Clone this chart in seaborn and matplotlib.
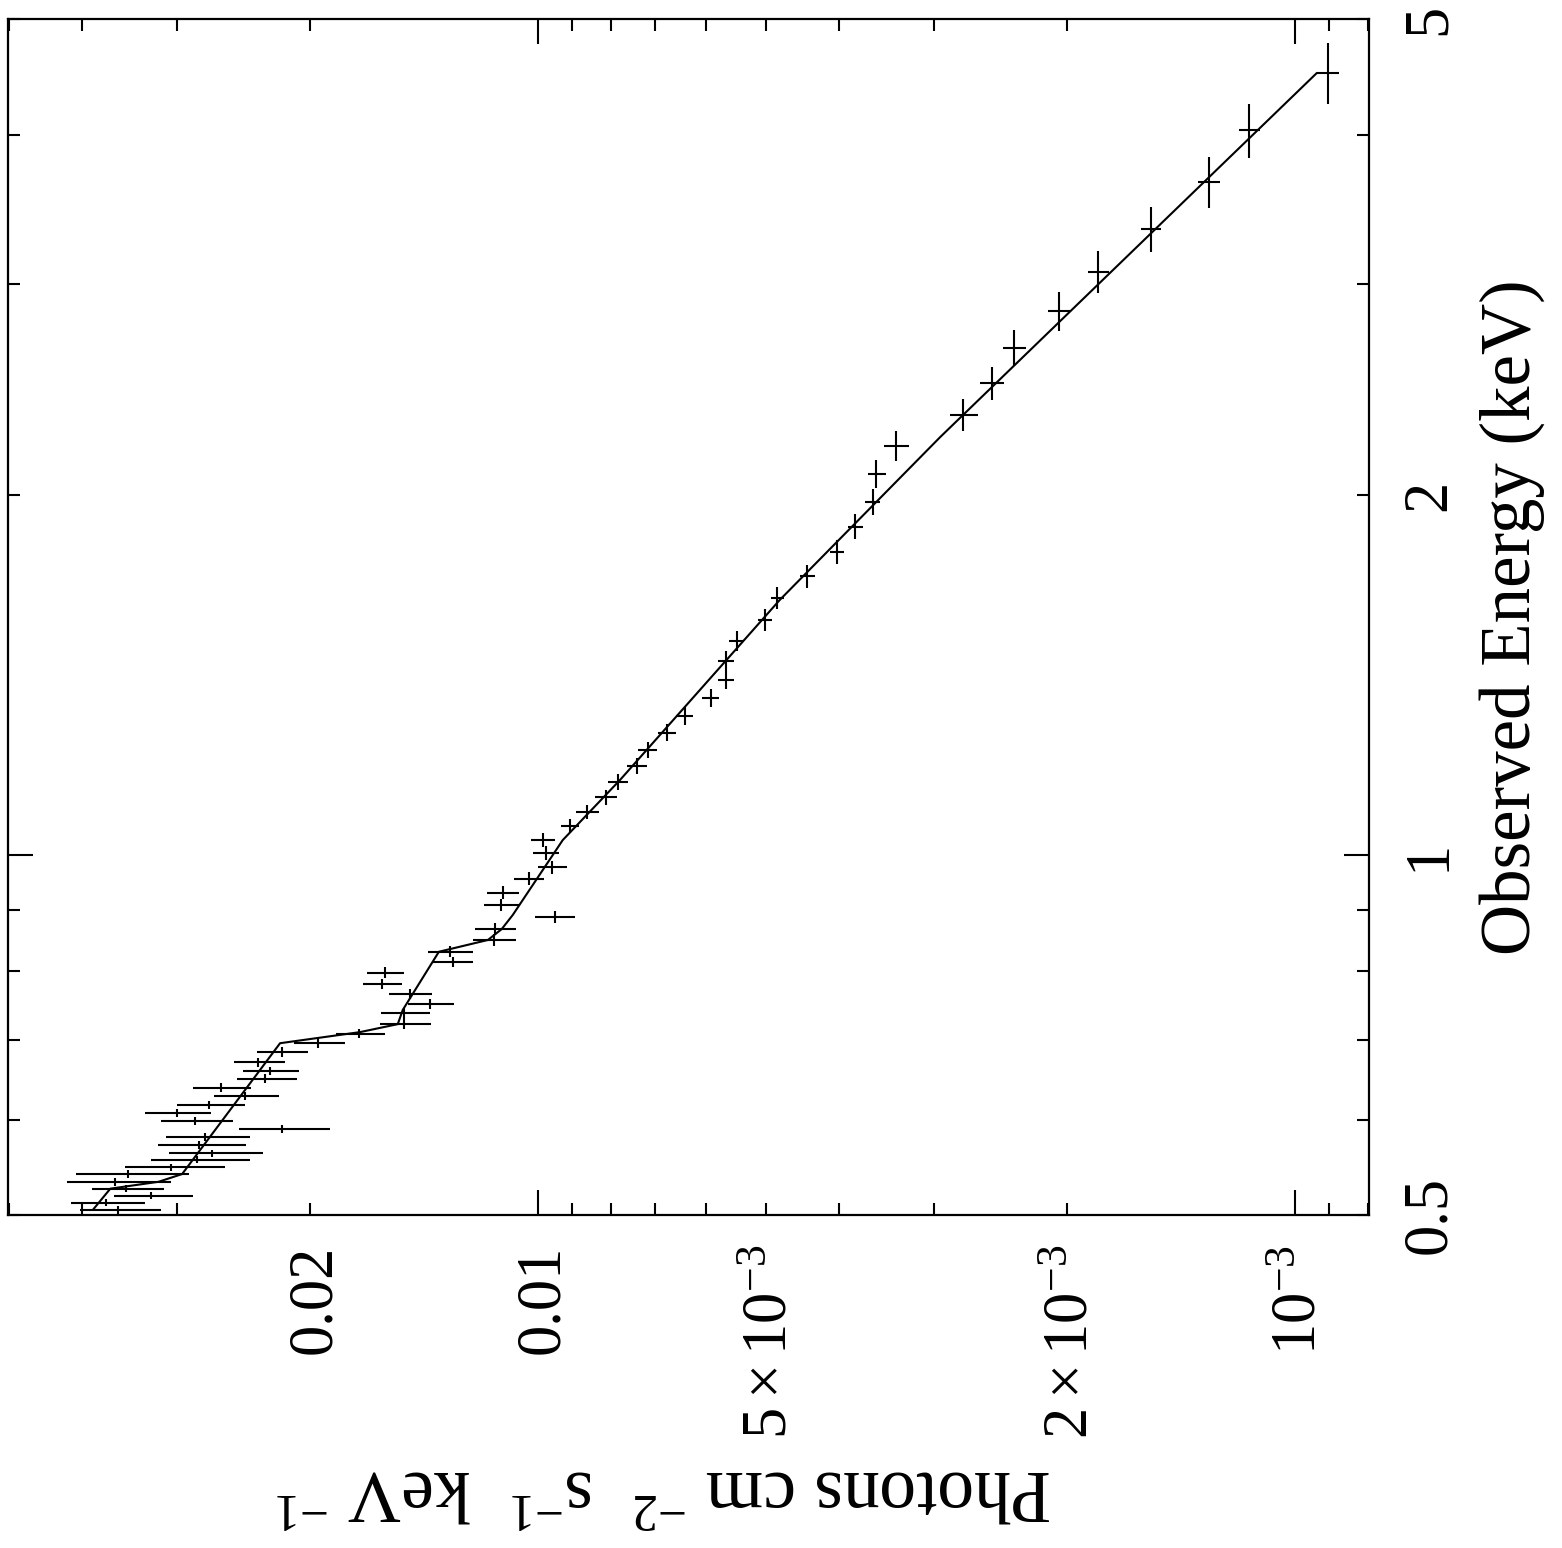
import numpy as np
import pandas as pd
import matplotlib
matplotlib.use("Agg")
import matplotlib.pyplot as plt
import matplotlib.transforms as mtransforms
from matplotlib.ticker import LogLocator, NullFormatter
import seaborn as sns

# Unfolded spectrum: bin centres and half-widths (keV), flux and 1-sigma errors
energy = [0.505, 0.512, 0.519, 0.526, 0.533, 0.541, 0.548, 0.556, 0.563, 0.572,
          0.581, 0.590, 0.599, 0.609, 0.618, 0.629, 0.639, 0.650, 0.660, 0.671,
          0.684, 0.696, 0.709, 0.722, 0.737, 0.751, 0.765, 0.780, 0.797, 0.814,
          0.830, 0.849, 0.867, 0.888, 0.908, 0.930, 0.955, 0.977, 1.004, 1.029,
          1.057, 1.086, 1.118, 1.151, 1.187, 1.224, 1.265, 1.307, 1.353, 1.401,
          1.453, 1.510, 1.572, 1.640, 1.711, 1.792, 1.881, 1.974, 2.083, 2.198,
          2.333, 2.481, 2.655, 2.850, 3.072, 3.338, 3.654, 4.039, 4.507]

energy_hw = [0.0036, 0.0035, 0.0035, 0.0035, 0.0038, 0.0039, 0.0037, 0.0037, 0.0041, 0.0044,
             0.0045, 0.0045, 0.0046, 0.0047, 0.0050, 0.0051, 0.0053, 0.0054, 0.0054, 0.0061,
             0.0063, 0.0064, 0.0065, 0.0070, 0.0071, 0.0072, 0.0074, 0.0079, 0.0084, 0.0082,
             0.0088, 0.0094, 0.0096, 0.0103, 0.0105, 0.0116, 0.0120, 0.0122, 0.0131, 0.0139,
             0.0143, 0.0152, 0.0161, 0.0172, 0.0183, 0.0195, 0.0207, 0.0220, 0.0234, 0.0249,
             0.0273, 0.0298, 0.0325, 0.0347, 0.0379, 0.0423, 0.0453, 0.0504, 0.0560, 0.0635,
             0.0719, 0.0789, 0.0920, 0.107, 0.124, 0.145, 0.176, 0.210, 0.265]

flux = [0.0359, 0.0372, 0.0324, 0.0350, 0.0362, 0.0348, 0.0305, 0.0282, 0.0269, 0.0280,
        0.0275, 0.0218, 0.0284, 0.0300, 0.0272, 0.0244, 0.0262, 0.0229, 0.0226, 0.0234,
        0.0218, 0.0195, 0.0172, 0.0150, 0.0150, 0.01389, 0.01476, 0.01607, 0.01593, 0.01295,
        0.01307, 0.01143, 0.01140, 0.00950, 0.01119, 0.01112, 0.01028, 0.00958, 0.00976, 0.00985,
        0.00907, 0.00861, 0.00813, 0.00784, 0.00740, 0.00716, 0.00676, 0.00640, 0.00591, 0.00564,
        0.00564, 0.00546, 0.00501, 0.00483, 0.00441, 0.00403, 0.00381, 0.00361, 0.00357, 0.00336,
        0.00274, 0.00251, 0.00235, 0.00205, 0.00182, 0.00155, 0.00130, 0.00115, 0.000905]

flux_err = [0.0044, 0.0042, 0.0039, 0.0038, 0.0057, 0.0059, 0.0046, 0.0042, 0.0038, 0.0037,
            0.0035, 0.0030, 0.0031, 0.0030, 0.0028, 0.0024, 0.0023, 0.0021, 0.0019, 0.0018,
            0.0017, 0.0015, 0.0013, 0.00116, 0.0011, 0.00097, 0.00097, 0.00095, 0.00090, 0.00079,
            0.00091, 0.00076, 0.00071, 0.00058, 0.00060, 0.00054, 0.00047, 0.00042, 0.00039, 0.00036,
            0.00025, 0.00030, 0.00027, 0.00024, 0.000225, 0.000207, 0.000185, 0.000165, 0.000153, 0.000137,
            0.00014, 0.000125, 0.000107, 0.0000955, 0.00010, 0.000086, 0.000087, 0.000082, 0.000098, 0.000128,
            0.000117, 0.0000916, 0.0000822, 0.0000686, 0.000058, 0.0000471, 0.0000435, 0.0000367, 0.0000303]

# Best-fit model curve
model_energy = [0.505, 0.526, 0.533, 0.541, 0.696, 0.711, 0.722, 0.742, 0.830,
                0.849, 0.867, 0.891, 1.029, 1.155, 1.634, 2.236, 4.507]
model_flux = [0.0387, 0.0367, 0.0317, 0.0295, 0.0219, 0.01718, 0.01531, 0.01508, 0.01351,
              0.01164, 0.01116, 0.01079, 0.00927, 0.00779, 0.00479, 0.00294, 0.000935]

# Axis labelling
flux_ticks = [0.02, 0.01, 5e-3, 2e-3, 1e-3]
flux_tick_labels = ["0.02", "0.01", r"$5\times10^{-3}$", r"$2\times10^{-3}$", r"$10^{-3}$"]
energy_ticks = [0.5, 1, 2, 5]
energy_tick_labels = ["0.5", "1", "2", "5"]
energy_title = "Observed Energy (keV)"
flux_title = r"Photons cm $^{-2}$  s$^{-1}$  keV $^{-1}$"

sns.set_theme(style="white")
plt.rcParams["font.family"] = ["Liberation Serif", "DejaVu Serif"]
plt.rcParams["mathtext.fontset"] = "custom"
plt.rcParams["mathtext.rm"] = "Liberation Serif"
plt.rcParams["mathtext.it"] = "Liberation Serif:italic"
plt.rcParams["mathtext.bf"] = "Liberation Serif:bold"
plt.rcParams["axes.edgecolor"] = "black"
plt.rcParams["axes.linewidth"] = 1.6

W, H, DPI = 1562, 1548, 100
fig = plt.figure(figsize=(W / DPI, H / DPI), dpi=DPI)
fig.patch.set_facecolor("white")
ax_l, ax_r, ax_t, ax_b = 8, 1369, 19, 1215
ax = fig.add_axes([ax_l / W, 1 - ax_b / H, (ax_r - ax_l) / W, (ax_b - ax_t) / H])
ax.set_facecolor("white")

ax.set_xscale("log")
ax.set_yscale("log")

spec = pd.DataFrame({"flux": flux, "flux_err": flux_err,
                     "energy": energy, "energy_hw": energy_hw})
model = pd.DataFrame({"flux": model_flux, "energy": model_energy})

ax.errorbar(spec["flux"], spec["energy"], xerr=spec["flux_err"], yerr=spec["energy_hw"],
            fmt="none", ecolor="black", elinewidth=1.5, capsize=0)
sns.lineplot(data=model, x="flux", y="energy", sort=False, estimator=None,
             color="black", linewidth=1.5, ax=ax)

ax.set_xlim(0.0501, 7.98e-4)
ax.set_ylim(0.5, 5)

for axis in (ax.xaxis, ax.yaxis):
    axis.set_major_locator(LogLocator(base=10, numticks=20))
    axis.set_minor_locator(LogLocator(base=10, subs=np.arange(2, 10), numticks=100))
    axis.set_major_formatter(NullFormatter())
    axis.set_minor_formatter(NullFormatter())
ax.tick_params(which="both", direction="in", color="black", width=1.5,
               top=True, bottom=True, left=True, right=True,
               labelbottom=False, labelleft=False, labeltop=False, labelright=False)
ax.tick_params(which="major", length=18)
ax.tick_params(which="minor", length=8.6)

px = 1.0 / DPI
tick_fs = 45
digit_h = 0.66 * tick_fs / 72 * DPI  # rendered digit height in pixels

# Flux tick labels below the frame, reading upward
bottom_tf = mtransforms.blended_transform_factory(ax.transData, ax.transAxes)
bottom_off = mtransforms.ScaledTranslation(digit_h / 2 * px, -30 * px, fig.dpi_scale_trans)
for v, s in zip(flux_ticks, flux_tick_labels):
    ax.text(v, 0, s, transform=bottom_tf + bottom_off, rotation=90,
            rotation_mode="anchor", ha="right", va="baseline",
            fontsize=tick_fs, color="black")

# Energy tick labels right of the frame
right_tf = mtransforms.blended_transform_factory(ax.transAxes, ax.transData)
right_off = mtransforms.ScaledTranslation(76 * px, 0, fig.dpi_scale_trans)
for v, s in zip(energy_ticks, energy_tick_labels):
    ax.text(1, v, s, transform=right_tf + right_off, rotation=90,
            rotation_mode="anchor", ha="center", va="baseline",
            fontsize=tick_fs, color="black")

# Axis titles
ax.yaxis.set_label_position("right")
ax.set_ylabel(energy_title, fontsize=51, color="black", rotation=90,
              rotation_mode="anchor", ha="center", va="baseline")
ax.yaxis.set_label_coords(1 + (1530 - ax_r) / (ax_r - ax_l), 0.5)

ax.set_xlabel(flux_title, fontsize=53, color="black", rotation=180,
              rotation_mode="anchor", ha="center", va="baseline")
ax.xaxis.set_label_coords((664 - ax_l) / (ax_r - ax_l), -(1470 - ax_b) / (ax_b - ax_t))

for sp in ax.spines.values():
    sp.set_color("black")
    sp.set_linewidth(1.6)

fig.savefig("out.png", dpi=DPI, facecolor="white")
